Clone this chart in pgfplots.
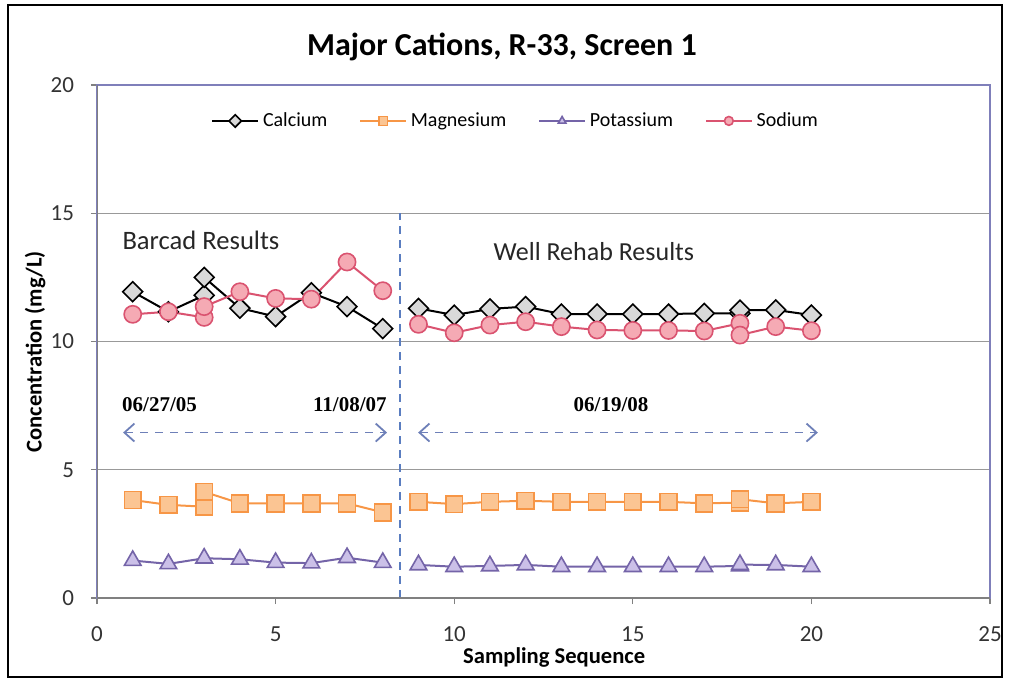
\documentclass[border=0pt]{standalone}
\usepackage{fontspec}
\setmainfont{Carlito}
\newfontfamily\datefont{Liberation Serif}
\usepackage{pgfplots}
\pgfplotsset{compat=1.18}
\usetikzlibrary{arrows.meta}
\definecolor{mgline}{HTML}{F79646}
\definecolor{mgfill}{HTML}{FBC593}
\definecolor{kline}{HTML}{7464A8}
\definecolor{kfill}{HTML}{CBC0E8}
\definecolor{naline}{HTML}{DA5370}
\definecolor{nafill}{HTML}{F5AAB4}
\definecolor{frameblue}{HTML}{7F7FBA}
\definecolor{dashblue}{HTML}{5A7DC0}
\definecolor{arrowblue}{HTML}{6E80B8}
\begin{document}
\begin{tikzpicture}
\path (0,0) rectangle (505pt,339.5pt);
\begin{axis}[
  at={(48.5pt,40.5pt)}, anchor=south west,
  scale only axis, width=446.5pt, height=256.5pt,
  xmin=0, xmax=25, ymin=0, ymax=20,
  xtick={0,5,...,25}, ytick={0,5,...,20},
  tick pos=left, tick align=outside,
  major tick length=3pt,
  tick style={gray, line width=0.6pt},
  axis line style={frameblue, line width=0.7pt},
  ymajorgrids, grid style={gray!80, line width=0.6pt},
  /pgf/number format/assume math mode=true,
  ticklabel style={font=\fontsize{11.5}{13}\selectfont, text=black!80},
  xticklabel style={yshift=-8pt},
  yticklabel style={xshift=-5pt},
  xlabel={Sampling Sequence},
  ylabel={Concentration (mg/L)},
  label style={font=\bfseries\fontsize{11.3}{13}\selectfont},
  xlabel style={at={(axis description cs:0.512,-0.116)}, anchor=center},
  ylabel style={at={(axis description cs:-0.0694,0.48)}, anchor=center},
  legend columns=4,
  legend style={at={(axis description cs:0.47,0.93)}, anchor=center, draw=none, fill=none,
    font=\fontsize{10}{12}\selectfont,
    /tikz/every even column/.append style={column sep=14pt}},
  legend image code/.code={
    \draw[mark repeat=2,mark phase=2,mark size=2.2pt] plot coordinates {(0cm,0cm) (0.4cm,0cm) (0.8cm,0cm)};
  },
]
% Calcium
\addplot[black, line width=1pt, mark=square*, mark size=3.5pt,
  mark options={rotate=45, fill=gray!30, draw=black, line width=0.8pt}] coordinates {
(1,11.94) (2,11.16) (3,11.8) (3,12.5) (4,11.3) (5,10.97) (6,11.9) (7,11.36) (8,10.5)};
\addlegendentry{Calcium}
% Magnesium
\addplot[mgline, line width=1pt, mark=square*, mark size=4.2pt,
  mark options={fill=mgfill, draw=mgline, line width=0.8pt}] coordinates {
(1,3.82) (2,3.63) (3,3.56) (3,4.14) (4,3.69) (5,3.69) (6,3.69) (7,3.69) (8,3.34)};
\addlegendentry{Magnesium}
% Potassium
\addplot[kline, line width=1pt, mark=triangle*, mark size=4.8pt,
  mark options={fill=kfill, draw=kline, line width=0.8pt}] coordinates {
(1,1.46) (2,1.33) (3,1.55) (4,1.51) (5,1.38) (6,1.36) (7,1.57) (8,1.38)};
\addlegendentry{Potassium}
% Sodium
\addplot[naline, line width=1pt, mark=*, mark size=4.3pt,
  mark options={fill=nafill, draw=naline, line width=0.8pt}] coordinates {
(1,11.06) (2,11.16) (3,10.94) (3,11.36) (4,11.94) (5,11.68) (6,11.65) (7,13.1) (8,11.98)};
\addlegendentry{Sodium}
% second segments
\addplot[forget plot, black, line width=1pt, mark=square*, mark size=3.5pt,
  mark options={rotate=45, fill=gray!30, draw=black, line width=0.8pt}] coordinates {
(9,11.29) (10,11.03) (11,11.27) (12,11.36) (13,11.07) (14,11.07) (15,11.07) (16,11.07) (17,11.1) (18,11.1) (18,11.22) (19,11.23) (20,11.03)};
\addplot[forget plot, mgline, line width=1pt, mark=square*, mark size=4.2pt,
  mark options={fill=mgfill, draw=mgline, line width=0.8pt}] coordinates {
(9,3.75) (10,3.66) (11,3.75) (12,3.79) (13,3.75) (14,3.75) (15,3.75) (16,3.75) (17,3.69) (18,3.72) (18,3.85) (19,3.69) (20,3.75)};
\addplot[forget plot, kline, line width=1pt, mark=triangle*, mark size=4.8pt,
  mark options={fill=kfill, draw=kline, line width=0.8pt}] coordinates {
(9,1.29) (10,1.22) (11,1.25) (12,1.29) (13,1.22) (14,1.22) (15,1.22) (16,1.22) (17,1.22) (18,1.25) (18,1.3) (19,1.29) (20,1.22)};
\addplot[forget plot, naline, line width=1pt, mark=*, mark size=4.3pt,
  mark options={fill=nafill, draw=naline, line width=0.8pt}] coordinates {
(9,10.67) (10,10.34) (11,10.64) (12,10.77) (13,10.58) (14,10.45) (15,10.43) (16,10.43) (17,10.41) (18,10.71) (18,10.25) (19,10.58) (20,10.42)};
% annotations
\draw[dashblue, line width=0.9pt, dash pattern=on 4pt off 3pt] (axis cs:8.48,0) -- (axis cs:8.48,15);
\draw[arrowblue, line width=0.9pt, dash pattern=on 4pt off 3.5pt,
  {Straight Barb[length=5pt,width=9pt]}-{Straight Barb[length=5pt,width=9pt]}]
  (axis cs:0.73,6.45) -- (axis cs:8.12,6.45);
\draw[arrowblue, line width=0.9pt, dash pattern=on 4pt off 3.5pt,
  {Straight Barb[length=5pt,width=9pt]}-{Straight Barb[length=5pt,width=9pt]}]
  (axis cs:8.99,6.45) -- (axis cs:20.18,6.45);
\node[font=\fontsize{13.3}{15}\selectfont, text=black!85] at (axis cs:2.91,13.96) {Barcad Results};
\node[font=\fontsize{13}{15}\selectfont, text=black!85] at (axis cs:13.91,13.49) {Well Rehab Results};
\node[font=\datefont\bfseries\fontsize{10.5}{12}\selectfont] at (axis cs:1.75,7.52) {06/27/05};
\node[font=\datefont\bfseries\fontsize{10.5}{12}\selectfont] at (axis cs:7.08,7.52) {11/08/07};
\node[font=\datefont\bfseries\fontsize{10.5}{12}\selectfont] at (axis cs:14.39,7.52) {06/19/08};
\draw[gray, line width=0.7pt] (axis description cs:0,1) -- (axis description cs:0,0) -- (axis description cs:1,0);
\end{axis}
\node[font=\bfseries\fontsize{16}{19}\selectfont] at (251pt,316pt) {Major Cations, R-33, Screen 1};
\draw[line width=1pt] (4pt,1pt) rectangle (501pt,337pt);
\end{tikzpicture}
\end{document}
